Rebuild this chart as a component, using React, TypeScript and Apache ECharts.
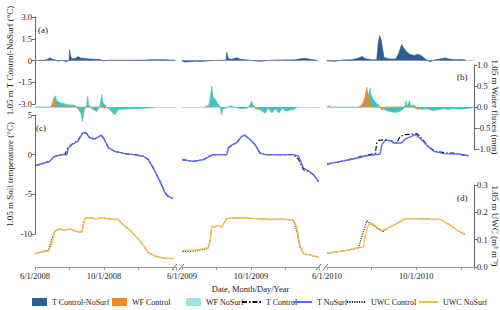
import React, { useEffect, useRef } from 'react';
import * as echarts from 'echarts';

// ---------- data (days since June 1 of each season) ----------
const years = ['2008', '2009', '2010'];

// (a) T Control-NoSurf (°C)
const dTDays2008 = [0, 18, 23, 26, 30, 35, 41, 48, 55, 60, 61, 63, 65, 72, 76, 80, 91, 106, 115, 120, 133, 160, 195, 203, 230, 247];
const dT2008 = [0, 0.03, 0.1, 0.19, 0.1, 0.05, -0.05, 0.02, -0.08, 0, 0.76, 0.3, 0.12, 0.15, 0.28, 0.18, 0.12, 0.08, 0.07, -0.03, 0.02, 0.02, 0.03, 0.06, 0.05, 0.02];
const dTDays2009 = [0, 5, 14, 23, 32, 44, 58, 76, 78, 79, 82, 88, 97, 102, 111, 129, 141, 156, 200, 209, 218, 226, 239];
const dT2009 = [-0.05, -0.1, -0.08, -0.05, -0.07, -0.04, 0, 0.02, 0.05, 0.57, 0.12, 0.08, 0.19, 0.1, 0.05, -0.03, -0.05, 0.02, 0.05, 0.12, 0.15, 0.08, 0.02];
const dTDays2010 = [0, 11, 22, 34, 42, 48, 53, 62, 68, 70, 72, 74, 76, 78, 86, 94, 98, 102, 105, 110, 114, 119, 125, 130, 134, 141, 148, 156, 162, 167, 175, 185, 190];
const dT2010 = [-0.03, -0.05, 0.04, 0.05, 0.15, 0.28, 0.12, 0.05, 0.05, 1.2, 1.72, 1.45, 0.8, 0.2, 0.1, 0.1, 0.5, 1.1, 0.85, 0.55, 0.42, 0.35, 0.43, 0.3, 0.12, -0.08, 0.05, 0.12, 0.18, 0.1, 0.05, 0.07, 0.02];

// (b) water fluxes (mm)
const wfNoSurfDays2008 = [0, 27, 30, 33.6, 36, 38.5, 44, 53, 62, 71, 76, 81, 84, 86.6, 91, 93, 95, 101, 109, 115, 118, 120, 125.5, 133, 141, 147, 159, 177, 194, 207, 212];
const wfNoSurf2008 = [0, 0, 0.05, 0.2, 0.27, 0.15, 0.1, 0.07, 0.05, 0.04, -0.05, -0.15, -0.35, -0.1, 0.05, 0.25, 0.05, -0.05, -0.11, 0.05, 0.3, 0.1, 0.02, -0.08, -0.19, -0.06, -0.05, -0.04, -0.03, -0.02, 0];
const wfControlDays2008 = [28, 31, 33.5, 35, 36, 120, 123, 126];
const wfControl2008 = [0, 0.1, 0.22, 0.05, 0, 0, -0.04, 0];
const wfNoSurfDays2009 = [40, 47.7, 50.7, 52.5, 55, 58, 63.6, 67, 70, 72, 85, 102.5, 115, 120, 123, 125.4, 132.6, 139.7, 146.8, 152, 159, 164.4, 171.5, 176.8, 184, 191, 198, 203];
const wfNoSurf2009 = [0, 0.05, 0.3, 0.5, 0.22, 0.2, 0.07, 0.02, -0.19, -0.05, 0.03, -0.04, -0.03, 0.05, 0.14, 0.05, -0.05, -0.08, -0.15, -0.03, -0.14, -0.04, -0.14, -0.03, -0.1, -0.07, -0.06, 0];
const wfControlDays2009 = [128, 131, 134];
const wfControl2009 = [0, -0.06, 0];
const wfNoSurfDays2010 = [0, 2.7, 5.5, 48, 53.4, 56, 59, 60, 63.4, 67, 70.3, 75, 79.5, 83.6, 89, 94.5, 100, 104, 107, 108, 109.6, 112.7, 114.4, 119, 123, 130, 137, 144, 152, 159, 166, 172.6, 181, 190, 200];
const wfNoSurf2010 = [0, 0.03, 0, 0, 0.05, 0.25, 0.45, 0.3, 0.17, 0.1, 0.05, -0.03, -0.07, -0.1, -0.12, -0.13, -0.1, -0.05, 0.05, 0.15, 0.02, 0.15, 0.02, 0.05, -0.03, -0.06, -0.04, -0.08, -0.07, -0.04, -0.06, -0.04, -0.05, -0.04, -0.02];
const wfControlDays2010 = [42.5, 46.6, 49.3, 52, 54.4, 56, 57.5, 60, 72.6, 75, 78, 80, 118, 121, 124.7, 127];
const wfControl2010 = [0, 0.03, 0.1, 0.25, 0.47, 0.3, 0.05, 0, 0, -0.07, -0.03, 0, 0, -0.03, -0.06, 0];

// (c) soil temperature (°C)
const tNoSurfDays2008 = [0, 26, 32, 41, 53, 56, 59, 65, 76, 84, 90, 97, 106, 117, 121, 130, 141, 159, 174, 191, 200, 209, 221, 230, 236, 244];
const tNoSurf2008 = [-1.4, -0.85, -0.35, -0.1, 0, -0.05, 0.85, 1.25, 1.7, 2.75, 2.75, 2.1, 2.0, 2.45, 2.1, 0.85, 0.42, 0.13, 0, -0.2, -0.6, -1.7, -3.4, -4.85, -5.3, -5.5];
const tControl2008 = [-1.4, -0.85, -0.3, -0.05, 0.05, 0.6, 0.95, 1.3, 1.8, 2.75, 2.75, 2.1, 2.0, 2.45, 2.1, 0.85, 0.42, 0.13, 0, -0.2, -0.6, -1.7, -3.4, -4.85, -5.3, -5.5];
const tNoSurfDays2009 = [0, 20, 38, 49.5, 55, 79, 82, 88, 97, 105.5, 111, 120, 129, 138, 147, 197, 206, 214.5, 223, 232, 241];
const tNoSurf2009 = [-0.63, -0.85, -0.63, -0.2, 0, 0, 0.85, 1.2, 1.55, 2.3, 2.45, 1.9, 1.27, 0.2, 0, 0, -0.2, -1.7, -2.0, -2.5, -3.4];
const tControl2009 = [-0.63, -0.85, -0.63, -0.1, 0, 0, 0.85, 1.2, 1.55, 2.3, 2.45, 1.9, 1.27, 0.2, 0, 0, -0.6, -1.9, -2.1, -2.5, -3.4];
const tNoSurfDays2010 = [0, 36, 54, 72.6, 75, 79.5, 86, 91, 102, 107, 114, 120.5, 127, 137, 146, 159.6, 180, 194];
const tNoSurf2010 = [-1.2, -0.55, -0.13, 0.08, 1.27, 1.8, 1.8, 1.48, 1.48, 2.0, 2.25, 2.53, 2.1, 1.14, 0.42, 0.13, 0.08, -0.13];
const tControlDays2010 = [0, 36, 54, 66, 68, 70.7, 79.5, 88.6, 95.5, 100, 107, 118, 123, 130, 139, 148, 164, 173, 188];
const tControl2010 = [-1.2, -0.5, -0.05, 0.1, 1.48, 1.8, 1.9, 1.7, 1.48, 2.3, 2.53, 2.6, 2.65, 2.0, 0.97, 0.42, 0.2, 0.2, -0.1];

// (d) unfrozen water content (m3 m-3)
const uwcDays2008 = [0, 23.5, 29.5, 35, 44, 50, 62, 71, 82.5, 88, 94, 109, 118, 132.6, 147, 153, 168, 185.6, 200, 215, 233, 244.5];
const uwcNoSurf2008 = [0.049, 0.059, 0.084, 0.131, 0.14, 0.134, 0.139, 0.131, 0.127, 0.177, 0.181, 0.176, 0.181, 0.175, 0.174, 0.159, 0.134, 0.096, 0.0525, 0.0375, 0.031, 0.031];
const uwcControl2008 = [0.049, 0.062, 0.1, 0.131, 0.14, 0.134, 0.139, 0.131, 0.127, 0.177, 0.181, 0.176, 0.181, 0.175, 0.174, 0.159, 0.134, 0.096, 0.0525, 0.0375, 0.031, 0.031];
const uwcDays2009 = [1, 26, 46.5, 49.5, 52.5, 58, 64, 70, 79, 97, 132, 155.6, 179, 197, 203, 208, 214.6, 226, 241];
const uwcNoSurf2009 = [0.061, 0.0625, 0.071, 0.096, 0.149, 0.146, 0.152, 0.146, 0.177, 0.18, 0.177, 0.174, 0.175, 0.171, 0.146, 0.084, 0.049, 0.044, 0.036];
const uwcControl2009 = [0.057, 0.059, 0.068, 0.096, 0.149, 0.146, 0.152, 0.146, 0.177, 0.18, 0.177, 0.174, 0.175, 0.171, 0.13, 0.075, 0.049, 0.044, 0.036];
const uwcNoSurfDays2010 = [0, 31.5, 45, 50, 52, 56.6, 61, 68, 75, 82, 95.5, 107, 118, 141, 155, 168.5, 178, 189];
const uwcNoSurf2010 = [0.05, 0.0625, 0.071, 0.074, 0.109, 0.156, 0.161, 0.146, 0.134, 0.14, 0.159, 0.177, 0.177, 0.175, 0.174, 0.153, 0.134, 0.119];
const uwcControlDays2010 = [0, 31.5, 43, 54.4, 72.6, 77, 82, 95.5, 107, 118, 141, 155, 168.5, 178, 189];
const uwcControl2010 = [0.05, 0.063, 0.071, 0.169, 0.134, 0.13, 0.14, 0.159, 0.177, 0.177, 0.175, 0.174, 0.153, 0.134, 0.119];

// ---------- layout ----------
const FONT = "'Liberation Serif', 'Times New Roman', serif";
const segLeft = [35, 182, 327];
const segWidth = [141, 137, 147];
const segMax = [249, 242, 201];
const panelTop = [17, 65, 115, 185];
const panelHeight = [87, 84, 119, 82];
const panelMin = [-3, -1, -10, 0];
const panelMax = [3, 1, 5, 0.3];
const panelInterval = [1.5, 0.5, 5, 0.1];

const C_DT = '#2d5e91';
const C_WFC = '#f08a24';
const C_WFN = '#45c3ba';
const C_WFN_LEG = '#a6e2dd';
const C_TN = '#5b6cf3';
const C_UWC = '#f2c24f';

const pairs = (d: number[], v: number[]) => d.map((x, i) => [x, v[i]]);

export default function App() {
  const ref = useRef<HTMLDivElement>(null);
  useEffect(() => {
    if (!ref.current) return;
    const chart = echarts.init(ref.current, undefined, { renderer: 'svg' });

    const grids: any[] = [];
    const xAxes: any[] = [];
    const yAxes: any[] = [];
    for (let p = 0; p < 4; p++) {
      for (let s = 0; s < 3; s++) {
        const gi = p * 3 + s;
        grids.push({
          left: segLeft[s], top: panelTop[p], width: segWidth[s], height: panelHeight[p],
          containLabel: false, outerBoundsMode: 'none',
        });
        const year = years[s];
        const xa: any = {
          type: 'value', gridIndex: gi, min: 0, max: segMax[s], interval: 61,
          splitLine: { show: false },
        };
        if (p <= 1) {
          Object.assign(xa, {
            axisLine: { show: true, onZero: true, lineStyle: { color: '#d2d2d2', width: 1 } },
            axisTick: { show: false }, axisLabel: { show: false },
          });
        } else if (p === 2) {
          xa.show = false;
        } else {
          Object.assign(xa, {
            axisLine: { show: true, onZero: false, lineStyle: { color: '#9a9a9a', width: 1 } },
            axisTick: { show: true, length: 3, lineStyle: { color: '#9a9a9a' } },
            axisLabel: {
              show: true, fontSize: 8.5, fontFamily: FONT, color: '#222', margin: 4,
              showMinLabel: true, showMaxLabel: true,
              formatter: (v: number) => (v === 0 ? `6/1/${year}` : v === 122 ? `10/1/${year}` : ''),
            },
          });
          if (s === 1) {
            Object.assign(xa, {
              name: 'Date, Month/Day/Year', nameLocation: 'middle', nameGap: 17,
              nameTextStyle: { fontSize: 8.5, fontFamily: FONT, color: '#222' },
            });
          }
        }
        xAxes.push(xa);

        const visible = (p === 0 && s === 0) || (p === 1 && s === 2) || (p === 2 && s === 0) || (p === 3 && s === 2);
        const right = p === 1 || p === 3;
        const ya: any = {
          type: 'value', gridIndex: gi, min: panelMin[p], max: panelMax[p], interval: panelInterval[p],
          position: right ? 'right' : 'left', show: visible,
          splitLine: { show: false },
          axisLine: { show: true, onZero: false, lineStyle: { color: '#666', width: 1 } },
          axisTick: { show: true, length: 3, lineStyle: { color: '#666' } },
          axisLabel: {
            fontSize: 8.5, fontFamily: FONT, color: '#222', margin: 3,
            formatter: (v: number) => {
              if (p === 0) return v === 0 ? '0' : v.toFixed(1);
              if (p === 2) return String(v);
              return v.toFixed(1);
            },
          },
        };
        if (visible) {
          const names = ['1.05 m T Control-NoSurf (°C)', '1.05 m Water fluxes (mm)', '1.05 m Soil temperature (°C)', '1.05 m UWC (m³ m⁻³)'];
          Object.assign(ya, {
            name: names[p], nameLocation: 'middle', nameRotate: right ? -90 : 90,
            nameGap: right ? 16 : 21,
            nameMoveOverlap: !right,
            nameTextStyle: { fontSize: 9, fontFamily: FONT, color: '#222' },
          });
        }
        yAxes.push(ya);
      }
    }

    const area = (name: string, color: string, gi: number, d: number[], v: number[]) => ({
      type: 'line', name, xAxisIndex: gi, yAxisIndex: gi, data: pairs(d, v),
      symbol: 'none', silent: true,
      lineStyle: { color, width: 0.6 }, itemStyle: { color }, areaStyle: { color, opacity: 1 },
    });
    const line = (name: string, color: string, gi: number, d: number[], v: number[], width: number, type: any) => ({
      type: 'line', name, xAxisIndex: gi, yAxisIndex: gi, data: pairs(d, v),
      symbol: 'none', silent: true,
      lineStyle: { color, width, type }, itemStyle: { color },
    });

    const dashDot = [5, 2, 1.5, 2];
    const dotted = [1.2, 1.2];

    const series: any[] = [
      area('T Control-NoSurf', C_DT, 0, dTDays2008, dT2008),
      area('T Control-NoSurf', C_DT, 1, dTDays2009, dT2009),
      area('T Control-NoSurf', C_DT, 2, dTDays2010, dT2010),
      area('WF NoSurf', C_WFN, 3, wfNoSurfDays2008, wfNoSurf2008),
      area('WF NoSurf', C_WFN, 4, wfNoSurfDays2009, wfNoSurf2009),
      area('WF NoSurf', C_WFN, 5, wfNoSurfDays2010, wfNoSurf2010),
      area('WF Control', C_WFC, 3, wfControlDays2008, wfControl2008),
      area('WF Control', C_WFC, 4, wfControlDays2009, wfControl2009),
      area('WF Control', C_WFC, 5, wfControlDays2010, wfControl2010),
      line('T Control', '#111', 6, tNoSurfDays2008, tControl2008, 1.2, dashDot),
      line('T Control', '#111', 7, tNoSurfDays2009, tControl2009, 1.2, dashDot),
      line('T Control', '#111', 8, tControlDays2010, tControl2010, 1.2, dashDot),
      line('T NoSurf', C_TN, 6, tNoSurfDays2008, tNoSurf2008, 1.4, 'solid'),
      line('T NoSurf', C_TN, 7, tNoSurfDays2009, tNoSurf2009, 1.4, 'solid'),
      line('T NoSurf', C_TN, 8, tNoSurfDays2010, tNoSurf2010, 1.4, 'solid'),
      line('UWC Control', '#222', 9, uwcDays2008, uwcControl2008, 1.1, dotted),
      line('UWC Control', '#222', 10, uwcDays2009, uwcControl2009, 1.1, dotted),
      line('UWC Control', '#222', 11, uwcControlDays2010, uwcControl2010, 1.1, dotted),
      line('UWC NoSurf', C_UWC, 9, uwcDays2008, uwcNoSurf2008, 1.4, 'solid'),
      line('UWC NoSurf', C_UWC, 10, uwcDays2009, uwcNoSurf2009, 1.4, 'solid'),
      line('UWC NoSurf', C_UWC, 11, uwcNoSurfDays2010, uwcNoSurf2010, 1.4, 'solid'),
    ];

    const legendDefs = [
      { name: 'T Control-NoSurf', left: 32, w: 15, icon: 'rect', color: C_DT },
      { name: 'WF Control', left: 112, w: 15, icon: 'rect', color: C_WFC },
      { name: 'WF NoSurf', left: 186, w: 15, icon: 'rect', color: C_WFN_LEG },
      { name: 'T Control', left: 241, w: 19 },
      { name: 'T NoSurf', left: 292, w: 19 },
      { name: 'UWC Control', left: 346, w: 19 },
      { name: 'UWC NoSurf', left: 418, w: 19 },
    ];
    const hiddenSymbol = {
      color: 'rgba(0,0,0,0)', borderColor: 'rgba(0,0,0,0)', borderWidth: 0, opacity: 0,
    };
    const legend = legendDefs.map((it) => ({
      left: it.left, top: 298, padding: 0, itemGap: 0, itemWidth: it.w, itemHeight: 8,
      selectedMode: false,
      textStyle: { fontSize: 8, fontFamily: FONT, color: '#222' },
      data: [it.icon
        ? { name: it.name, icon: it.icon, itemStyle: { color: it.color } }
        : { name: it.name, itemStyle: hiddenSymbol }],
    }));

    const brk = (x: number) => ({
      type: 'line', silent: true,
      shape: { x1: x, y1: 270, x2: x + 5, y2: 264 },
      style: { stroke: '#666', lineWidth: 1 },
    });
    const label = (text: string, left: number, top: number) => ({
      type: 'text', left, top, silent: true,
      style: { text, fontSize: 9, fontFamily: FONT, fill: '#222' },
    });

    chart.setOption({
      animation: false,
      backgroundColor: '#fff',
      grid: grids,
      xAxis: xAxes,
      yAxis: yAxes,
      series,
      legend,
      graphic: [
        brk(172), brk(179), brk(316), brk(323),
        label('(a)', 38, 25),
        label('(b)', 457, 72),
        label('(c)', 36, 123),
        label('(d)', 457, 193),
      ],
    });
    return () => chart.dispose();
  }, []);
  return <div ref={ref} style={{ position: 'absolute', left: 0, top: 0, width: 500, height: 310 }} />;
}
